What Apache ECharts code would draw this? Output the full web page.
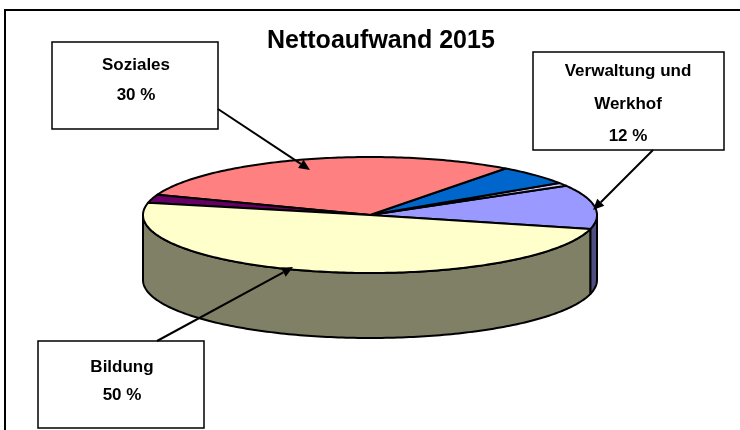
<!DOCTYPE html>
<html lang="de">
<head>
<meta charset="utf-8">
<title>Nettoaufwand 2015</title>
<script type="text/javascript" src="https://cdn.jsdelivr.net/npm/echarts@6/dist/echarts.min.js"></script>
<style>
  html, body { margin: 0; padding: 0; background: #fff; }
</style>
</head>
<body>
<div id="main" style="width: 740px;height:430px;"></div>
<script type="text/javascript">
    // Daten
    var sliceNames = ['Verwaltung und Werkhof', 'Übriges 1', 'Übriges 2', 'Soziales', 'Übriges 3', 'Bildung'];
    var sliceValues = [12.3, 0.9, 5.5, 29.5, 2.3, 49.5];
    var sliceColors = ['#9999FF', '#CCCCFF', '#0066CC', '#FF8080', '#660066', '#FFFFCC'];
    var sideColors = ['#4D4D80', '#666680', '#003366', '#804040', '#330033', '#808066'];
    var labelledSlices = [3, 0, 5];

    // Geometrie der "3D"-Torte
    var CX = 370, CY = 215, RX = 227, RY = 58, DEPTH = 65;
    var START = -14; // Grad, gegen den Uhrzeigersinn

    var total = sliceValues.reduce(function (a, b) { return a + b; }, 0);
    var angles = [];
    var acc = START;
    sliceValues.forEach(function (v) {
        var a0 = acc;
        acc += v / total * 360;
        angles.push([a0, acc]);
    });

    function arcPoints(a0, a1, dy) {
        var pts = [];
        var n = Math.max(2, Math.ceil(Math.abs(a1 - a0)));
        for (var i = 0; i <= n; i++) {
            var a = (a0 + (a1 - a0) * i / n) * Math.PI / 180;
            pts.push([CX + RX * Math.cos(a), CY - RY * Math.sin(a) + dy]);
        }
        return pts;
    }

    // vordere Seitenflaechen (Winkel 180..360)
    function frontRanges(a0, a1) {
        var out = [];
        for (var k = -1; k <= 1; k++) {
            var s = Math.max(a0, 180 + 360 * k);
            var e = Math.min(a1, 360 + 360 * k);
            if (e > s) out.push([s, e]);
        }
        return out;
    }

    function renderSide(params, api) {
        var i = params.dataIndex;
        var children = frontRanges(angles[i][0], angles[i][1]).map(function (r) {
            var pts = arcPoints(r[0], r[1], 0).concat(arcPoints(r[1], r[0], DEPTH));
            return {
                type: 'polygon',
                shape: { points: pts },
                style: { fill: sideColors[i], stroke: '#000', lineWidth: 2, lineJoin: 'round' }
            };
        });
        return { type: 'group', children: children };
    }

    function renderTop(params, api) {
        var i = params.dataIndex;
        var pts = [[CX, CY]].concat(arcPoints(angles[i][0], angles[i][1], 0));
        return {
            type: 'polygon',
            shape: { points: pts },
            style: { fill: sliceColors[i], stroke: '#000', lineWidth: 2, lineJoin: 'round' }
        };
    }

    // Beschriftungen (Kasten, Text, Pfeil)
    var labelLayout = {
        3: { box: [52, 42, 166, 87], text: [136, 80], lh: 30, from: [218, 109], to: [310, 170] },
        0: { box: [533, 52, 191, 98], text: [628, 104], lh: 32.5, from: [653, 150], to: [593, 210] },
        5: { box: [38, 341, 166, 87], text: [122, 381], lh: 28, from: [157, 341], to: [293, 267] }
    };

    function labelText(i) {
        var name = sliceNames[i];
        if (name.length > 12) {
            var k = name.lastIndexOf(' ');
            name = name.slice(0, k) + '\n' + name.slice(k + 1);
        }
        return name + '\n' + Math.round(sliceValues[i] / total * 100) + ' %';
    }

    function arrow(from, to) {
        var dx = to[0] - from[0], dy = to[1] - from[1];
        var len = Math.sqrt(dx * dx + dy * dy);
        var ux = dx / len, uy = dy / len;
        var hl = 11, hw = 5;
        var bx = to[0] - ux * hl, by = to[1] - uy * hl;
        return [{
            type: 'line',
            z: 100,
            shape: { x1: from[0], y1: from[1], x2: bx, y2: by },
            style: { stroke: '#000', lineWidth: 2 }
        }, {
            type: 'polygon',
            z: 100,
            shape: { points: [to, [bx - uy * hw, by + ux * hw], [bx + uy * hw, by - ux * hw]] },
            style: { fill: '#000' }
        }];
    }

    var graphics = [{
        type: 'rect',
        z: 0,
        shape: { x: 5, y: 10, width: 800, height: 500 },
        style: { fill: 'none', stroke: '#000', lineWidth: 2 }
    }];
    labelledSlices.forEach(function (i) {
        var L = labelLayout[i];
        graphics.push({
            type: 'rect',
            z: 100,
            shape: { x: L.box[0], y: L.box[1], width: L.box[2], height: L.box[3] },
            style: { fill: '#fff', stroke: '#000', lineWidth: 1.5 }
        });
        graphics.push({
            type: 'text',
            z: 101,
            x: L.text[0],
            y: L.text[1],
            style: {
                text: labelText(i),
                font: 'bold 17px "Liberation Sans", Arial, sans-serif',
                fill: '#000',
                align: 'center',
                verticalAlign: 'middle',
                lineHeight: L.lh
            }
        });
        graphics = graphics.concat(arrow(L.from, L.to));
    });

    var myChart = echarts.init(document.getElementById('main'));
    var option = {
        animation: false,
        backgroundColor: '#fff',
        title: {
            text: 'Nettoaufwand 2015',
            left: 262,
            top: 24,
            textStyle: {
                fontFamily: '"Liberation Sans", Arial, sans-serif',
                fontSize: 25,
                fontWeight: 'bold',
                color: '#000'
            }
        },
        series: [{
            type: 'custom',
            name: 'Seite',
            coordinateSystem: 'none',
            silent: true,
            z: 1,
            renderItem: renderSide,
            data: sliceValues.map(function (v, i) { return { name: sliceNames[i], value: [v] }; })
        }, {
            type: 'custom',
            name: 'Oberseite',
            coordinateSystem: 'none',
            silent: true,
            z: 2,
            renderItem: renderTop,
            data: sliceValues.map(function (v, i) { return { name: sliceNames[i], value: [v] }; })
        }],
        graphic: graphics
    };
    myChart.setOption(option);
</script>
</body>
</html>
